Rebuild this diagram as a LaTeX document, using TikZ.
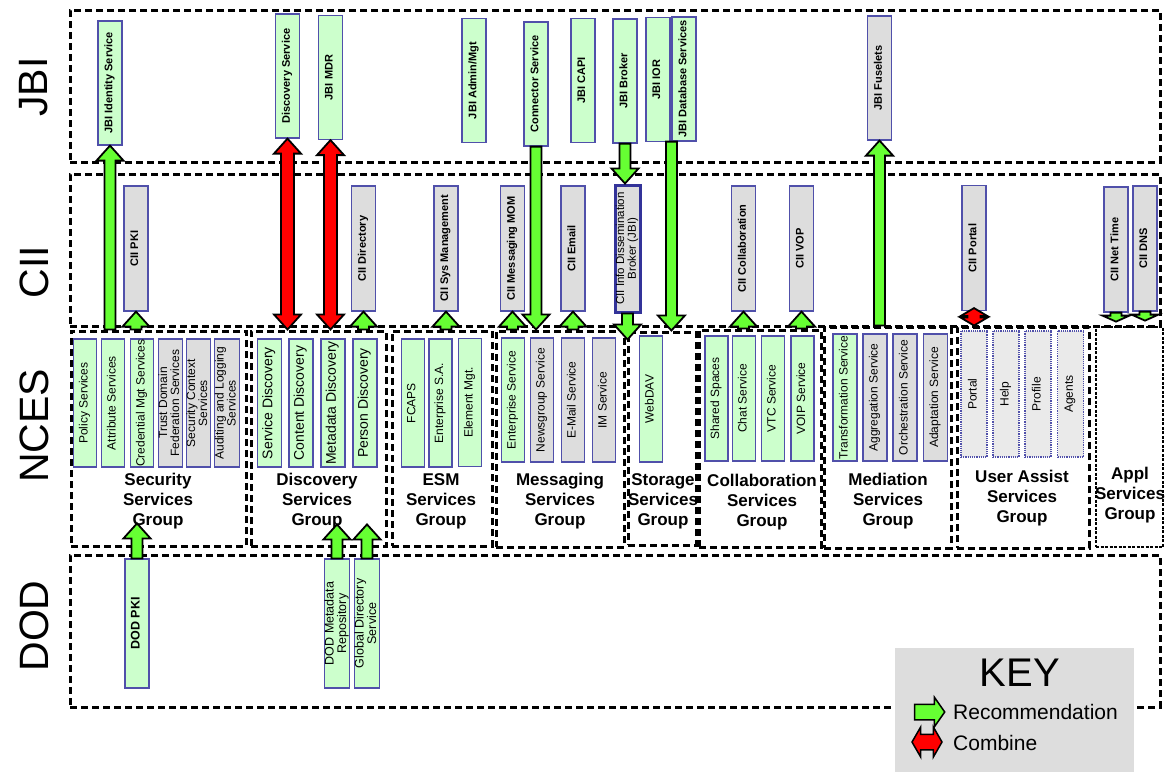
\documentclass[tikz,border=0pt]{standalone}
\usepackage{fontspec}
\setmainfont{Liberation Sans}
\usepackage{graphicx}
\usetikzlibrary{calc,shapes.arrows}

\definecolor{boxgreen}{HTML}{CCFFCC}
\definecolor{boxgray}{HTML}{DDDDDD}
\definecolor{boxlight}{HTML}{EAEAEA}
\definecolor{boxblue}{RGB}{80,80,170}
\definecolor{idbblue}{RGB}{51,51,153}
\definecolor{recgreen}{HTML}{66FF33}
\definecolor{combred}{HTML}{FF0000}
\definecolor{keygray}{HTML}{DDDDDD}

\newcommand{\vlbl}[1]{\rotatebox{90}{\begin{tabular}{@{}c@{}}#1\end{tabular}}}

\newcommand{\blockarrow}[4][15]{%
  \path[#2] let \p1=(#3), \p2=(#4), \n1={sign((\y2)-(\y1))} in
    ({\x2-5.5pt},\y1) -- ({\x2-5.5pt},{\y2-\n1*#1pt}) -- ({\x2-13.5pt},{\y2-\n1*#1pt})
    -- (\x2,\y2) -- ({\x2+13.5pt},{\y2-\n1*#1pt}) -- ({\x2+5.5pt},{\y2-\n1*#1pt})
    -- ({\x2+5.5pt},\y1) -- cycle;}

\newcommand{\bothblock}[4][15]{%
  \path[#2] let \p1=(#3), \p2=(#4), \n1={sign((\y2)-(\y1))} in
    (\x2,\y1) -- ({\x2-13.5pt},{\y1+\n1*#1pt}) -- ({\x2-6.5pt},{\y1+\n1*#1pt})
    -- ({\x2-6.5pt},{\y2-\n1*#1pt}) -- ({\x2-13.5pt},{\y2-\n1*#1pt}) -- (\x2,\y2)
    -- ({\x2+13.5pt},{\y2-\n1*#1pt}) -- ({\x2+6.5pt},{\y2-\n1*#1pt})
    -- ({\x2+6.5pt},{\y1+\n1*#1pt}) -- ({\x2+13.5pt},{\y1+\n1*#1pt}) -- cycle;}

\begin{document}
\begin{tikzpicture}[x=1pt, y=-1pt,
  layerbox/.style={draw=black, line width=3pt, dash pattern=on 7pt off 4pt, minimum width=1090pt, minimum height=152pt},
  grpbox/.style={draw=black, line width=3pt, dash pattern=on 7pt off 4pt},
  svc/.style={draw=boxblue, line width=1.2pt, inner sep=0pt, minimum width=24pt},
  grn/.style={svc, fill=boxgreen},
  gry/.style={svc, fill=boxgray},
  ualt/.style={svc, fill=boxlight, densely dotted, line width=1.6pt, minimum width=26pt, minimum height=126pt, font=\fontsize{12}{11.5}\selectfont},
  jbirow/.style={minimum height=124pt, font=\bfseries\fontsize{11}{11}\selectfont},
  ciirow/.style={minimum height=125pt, font=\bfseries\fontsize{11}{11}\selectfont},
  ncesrow/.style={minimum height=128pt, minimum width=23pt, font=\fontsize{12}{11.5}\selectfont},
  dodrow/.style={minimum height=129pt, font=\fontsize{12.5}{11.5}\selectfont},
  grplbl/.style={align=center, font=\bfseries\fontsize{17}{20}\selectfont, inner sep=0pt},
  layerlbl/.style={rotate=90, font=\fontsize{41}{41}\selectfont},
  recarrow/.style={draw=black, line width=1.8pt, fill=recgreen},
  combarrow/.style={draw=black, line width=1.8pt, fill=combred}]
\useasboundingbox (0,0) rectangle (1166,772);

\node[layerlbl] (jbitxt) at (34,87) {JBI};
\node[layerlbl] (ciitxt) at (34,272) {CII};
\node[layerlbl] (ncestxt) at (34,426) {NCES};
\node[layerlbl] (dodtxt) at (34,626) {DOD};

\node[layerbox] (jbilayer) at (615,86) {};
\node[layerbox] (ciilayer) at (615,250) {};
\node[layerbox] (dodlayer) at (615,631) {};

\node[grpbox, minimum width=175pt, minimum height=215pt] (secgrp) at (158.5,438.5) {};
\node[grpbox, minimum width=135pt, minimum height=215pt] (discgrp) at (318.5,438.5) {};
\node[grpbox, minimum width=100pt, minimum height=215pt] (esmgrp) at (442,438.5) {};
\node[grpbox, minimum width=128pt, minimum height=216pt] (msggrp) at (560,439) {};
\node[grpbox, minimum width=68pt, minimum height=213pt] (stogrp) at (662,438.5) {};
\node[grpbox, minimum width=122pt, minimum height=217pt] (collabgrp) at (760,438.5) {};
\node[grpbox, minimum width=127pt, minimum height=221pt] (medgrp) at (887.5,437.5) {};
\node[grpbox, minimum width=132pt, minimum height=221pt] (uagrp) at (1023,437.5) {};
\node[grpbox, dash pattern=on 3pt off 1.5pt, line width=2.2pt, minimum width=67pt, minimum height=220pt] (appgrp) at (1129.5,437) {};

\node[grplbl] (seclbl) at (158,501) {Security\\Services\\Group};
\node[grplbl] (disclbl) at (317,501) {Discovery\\Services\\Group};
\node[grplbl] (esmlbl) at (441,501) {ESM\\Services\\Group};
\node[grplbl] (msglbl) at (560,501) {Messaging\\Services\\Group};
\node[grplbl] (stolbl) at (663,501) {Storage\\Services\\Group};
\node[grplbl] (collablbl) at (762,502) {Collaboration\\Services\\Group};
\node[grplbl] (medlbl) at (888,501) {Mediation\\Services\\Group};
\node[grplbl] (ualbl) at (1022,498) {User Assist\\Services\\Group};
\node[grplbl] (appllbl) at (1130,495) {Appl\\Services\\Group};

\node[grn, jbirow] (jbiid) at (110,83) {\vlbl{JBI Identity Service}};
\node[grn, jbirow] (jbidisc) at (287.5,76) {\vlbl{Discovery Service}};
\node[grn, jbirow] (jbimdr) at (330.5,77.5) {\vlbl{JBI MDR}};
\node[grn, jbirow] (jbiadmin) at (474,80.5) {\vlbl{JBI Admin/Mgt}};
\node[grn, jbirow] (jbiconn) at (536,84) {\vlbl{Connector Service}};
\node[grn, jbirow] (jbicapi) at (583,80.5) {\vlbl{JBI CAPI}};
\node[grn, jbirow] (jbibroker) at (625,81) {\vlbl{JBI Broker}};
\node[grn, jbirow] (jbiior) at (658,79.5) {\vlbl{JBI IOR}};
\node[grn, jbirow] (jbidb) at (684,79) {\vlbl{JBI Database Services}};
\node[gry, jbirow] (jbifuse) at (879.5,78) {\vlbl{JBI Fuselets}};

\node[gry, ciirow] (ciipki) at (136,248.5) {\vlbl{CII PKI}};
\node[gry, ciirow] (ciidir) at (363.5,248.5) {\vlbl{CII Directory}};
\node[gry, ciirow] (ciisys) at (446,248.5) {\vlbl{CII Sys Management}};
\node[gry, ciirow] (ciimom) at (512.5,248.5) {\vlbl{CII Messaging MOM}};
\node[gry, ciirow] (ciimail) at (573,248.5) {\vlbl{CII Email}};
\node[gry, ciirow, draw=idbblue, line width=3pt, minimum width=25pt, minimum height=127pt, font=\fontsize{11.5}{11}\selectfont] (ciiidb) at (627.5,248.5) {\vlbl{CII Info Dissemination\\Broker (JBI)}};
\node[gry, ciirow] (ciicollab) at (743.5,248.5) {\vlbl{CII Collaboration}};
\node[gry, ciirow] (ciivop) at (801.5,248.5) {\vlbl{CII VOP}};
\node[gry, ciirow] (ciiportal) at (974,248) {\vlbl{CII Portal}};
\node[gry, ciirow] (ciitime) at (1116,249.5) {\vlbl{CII Net Time}};
\node[gry, ciirow] (ciidns) at (1145,248.5) {\vlbl{CII DNS}};

\node[grn, ncesrow] (policy) at (85,403) {\vlbl{Policy Services}};
\node[grn, ncesrow] (attr) at (113,403) {\vlbl{Attribute Services}};
\node[grn, ncesrow] (cred) at (142,403) {\vlbl{Credential Mgt Services}};
\node[gry, ncesrow] (trust) at (170.5,403) {\vlbl{Trust Domain\\Federation Services}};
\node[gry, ncesrow] (secctx) at (198.5,403) {\vlbl{Security Context\\Services}};
\node[gry, ncesrow] (audit) at (227,403) {\vlbl{Auditing and Logging\\Services}};

\node[grn, ncesrow, minimum width=24pt, font=\fontsize{14}{14}\selectfont] (servdisc) at (269.5,403) {\vlbl{Service Discovery}};
\node[grn, ncesrow, minimum width=24pt, font=\fontsize{14}{14}\selectfont] (contdisc) at (301,403) {\vlbl{Content Discovery}};
\node[grn, ncesrow, minimum width=24pt, font=\fontsize{14}{14}\selectfont] (metadisc) at (333,403) {\vlbl{Metadata Discovery}};
\node[grn, ncesrow, minimum width=24pt, font=\fontsize{14}{14}\selectfont] (persdisc) at (365,403) {\vlbl{Person Discovery}};

\node[grn, ncesrow] (fcaps) at (413,403) {\vlbl{FCAPS}};
\node[grn, ncesrow] (entsa) at (440.5,403) {\vlbl{Enterprise S.A.}};
\node[grn, ncesrow] (elmgt) at (470,402.5) {\vlbl{Element Mgt.}};

\node[grn, ncesrow, minimum height=124pt] (entserv) at (513,400) {\vlbl{Enterprise Service}};
\node[gry, ncesrow, minimum height=124pt] (newsgrp) at (542,400) {\vlbl{Newsgroup Service}};
\node[gry, ncesrow, minimum height=124pt] (emailserv) at (573,400) {\vlbl{E-Mail Service}};
\node[gry, ncesrow, minimum height=124pt] (imserv) at (604,400) {\vlbl{IM Service}};

\node[grn, ncesrow, minimum height=126pt] (webdav) at (651,399) {\vlbl{WebDAV}};

\node[grn, ncesrow, minimum height=125pt] (shared) at (716.5,398.5) {\vlbl{Shared Spaces}};
\node[grn, ncesrow, minimum height=125pt] (chat) at (744,398.5) {\vlbl{Chat Service}};
\node[grn, ncesrow, minimum height=125pt] (vtc) at (773,398.5) {\vlbl{VTC Service}};
\node[grn, ncesrow, minimum height=125pt] (voip) at (802.5,398.5) {\vlbl{VOIP Service}};

\node[grn, ncesrow, minimum width=24pt, minimum height=127pt] (transf) at (845,397.5) {\vlbl{Transformation Service}};
\node[gry, ncesrow, minimum width=24pt, minimum height=127pt] (aggr) at (875,397.5) {\vlbl{Aggregation Service}};
\node[gry, ncesrow, minimum width=24pt, minimum height=127pt] (orch) at (905,397.5) {\vlbl{Orchestration Service}};
\node[gry, ncesrow, minimum width=24pt, minimum height=127pt] (adapt) at (935.5,397.5) {\vlbl{Adaptation Service}};

\node[ualt] (portal) at (974,394) {\vlbl{Portal}};
\node[ualt] (help) at (1006,394) {\vlbl{Help}};
\node[ualt] (profile) at (1038,394) {\vlbl{Profile}};
\node[ualt] (agents) at (1070.5,394) {\vlbl{Agents}};

\node[grn, dodrow, font=\bfseries\fontsize{12.5}{12}\selectfont] (dodpki) at (137,623.5) {\vlbl{DOD PKI}};
\node[grn, dodrow] (dodmdr) at (337,623.5) {\vlbl{DOD Metadata\\Repository}};
\node[grn, dodrow] (gds) at (367,623.5) {\vlbl{Global Directory\\Service}};

\blockarrow{recarrow}{secgrp.north}{jbiid.south}
\blockarrow{recarrow}{secgrp.north}{ciipki.south}
\bothblock{combarrow}{discgrp.north}{jbidisc.south}
\bothblock{combarrow}{discgrp.north}{jbimdr.south}
\blockarrow{recarrow}{discgrp.north}{ciidir.south}
\blockarrow{recarrow}{esmgrp.north}{ciisys.south}
\blockarrow{recarrow}{msggrp.north}{ciimom.south}
\blockarrow{recarrow}{jbiconn.south}{jbiconn.south |- msggrp.north}
\blockarrow{recarrow}{msggrp.north}{ciimail.south}
\blockarrow{recarrow}{jbibroker.south}{jbibroker.south |- ciiidb.north}
\blockarrow{recarrow}{ciiidb.south}{[yshift=-26pt]ciiidb.south}
\blockarrow{recarrow}{jbidb.south}{jbidb.south west |- stogrp.north}
\blockarrow{recarrow}{collabgrp.north}{ciicollab.south}
\blockarrow{recarrow}{collabgrp.north}{ciivop.south}
\blockarrow{recarrow}{medgrp.north}{jbifuse.south}
\bothblock[8]{combarrow}{uagrp.north}{[yshift=3pt]ciiportal.south}
\blockarrow[6]{recarrow}{ciitime.south}{[yshift=-9pt]ciitime.south}
\blockarrow[6]{recarrow}{ciidns.south}{[yshift=-9pt]ciidns.south}
\blockarrow{recarrow}{dodpki.north}{[yshift=35pt]dodpki.north}
\blockarrow{recarrow}{dodmdr.north}{[yshift=34pt]dodmdr.north}
\blockarrow{recarrow}{gds.north}{[yshift=34pt]gds.north}

\node[fill=keygray, minimum width=239pt, minimum height=124pt] (keybox) at (1014.5,710) {};
\node[font=\fontsize{40}{40}\selectfont, inner sep=0pt] (keytitle) at (1020,673) {KEY};
\node[single arrow, draw=black, line width=1.5pt, fill=recgreen, inner sep=7pt, minimum height=30pt, single arrow head extend=7pt, single arrow tip angle=110] (keyrec) at (927,712) {};
\node[anchor=west, font=\fontsize{21}{21}\selectfont, inner sep=0pt] (keyreclbl) at (953,712) {Recommendation};
\node[double arrow, draw=black, line width=1.5pt, fill=combred, inner sep=7pt, minimum height=30pt, double arrow head extend=7pt, double arrow tip angle=120] (keycomb) at (927,742) {};
\node[anchor=west, font=\fontsize{21}{21}\selectfont, inner sep=0pt] (keycomblbl) at (953,743) {Combine};
\end{tikzpicture}
\end{document}
